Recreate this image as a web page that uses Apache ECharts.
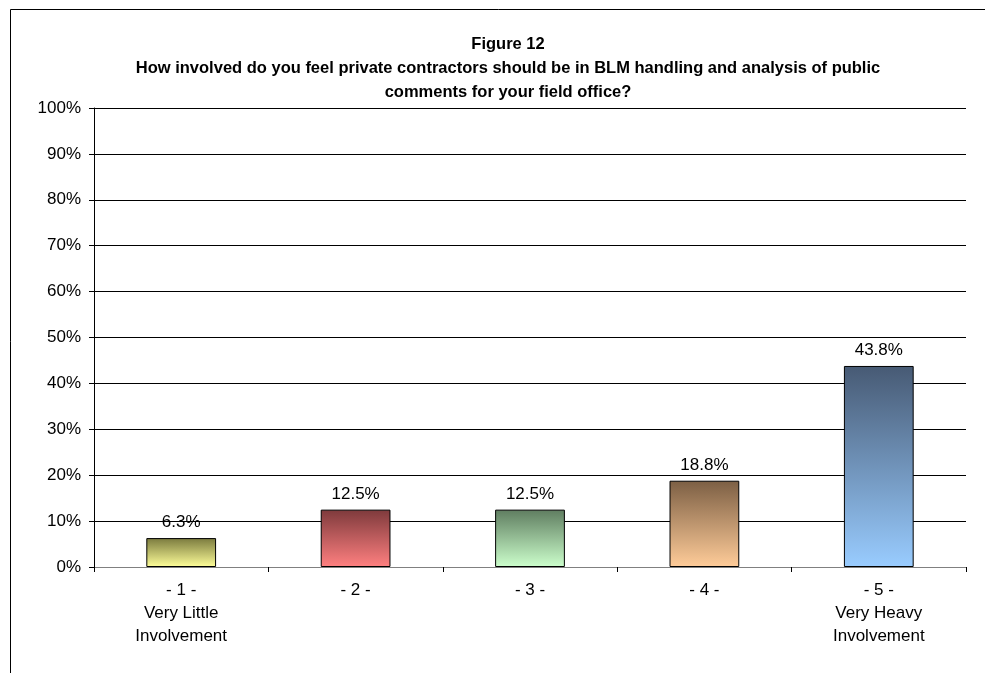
<!DOCTYPE html>
<html>
<head>
<meta charset="utf-8">
<script src="https://cdn.jsdelivr.net/npm/echarts@6/dist/echarts.min.js"></script>
<style>
  html, body { margin: 0; padding: 0; background: #fff; }
  #chart { width: 985px; height: 673px; }
</style>
</head>
<body>
<div id="chart"></div>
<script>
// Survey responses: share of respondents per involvement level
const categories = ['- 1 -\nVery Little\nInvolvement', '- 2 -', '- 3 -', '- 4 -', '- 5 -\nVery Heavy\nInvolvement'];
const shares = [6.3, 12.5, 12.5, 18.8, 43.8];
const yTicks = [0, 10, 20, 30, 40, 50, 60, 70, 80, 90, 100];

// Top (dark) and bottom (light) colours of each bar's vertical gradient
const barTops = ['#7a7a3e', '#7e3a3c', '#5f7d60', '#7c5f44', '#475a74'];
const barBottoms = ['#ffff99', '#ff8080', '#ccffcc', '#ffcc99', '#99ccff'];

const FONT = '"Liberation Sans", Arial, sans-serif';

const chart = echarts.init(document.getElementById('chart'), null, { renderer: 'canvas' });

chart.setOption({
  animation: false,
  backgroundColor: '#fff',
  graphic: [
    {
      type: 'rect',
      shape: { x: 10.5, y: 9.5, width: 1000, height: 700 },
      style: { fill: 'none', stroke: '#000', lineWidth: 1 },
      silent: true,
      z: -1
    }
  ],
  title: {
    text: 'Figure 12\nHow involved do you feel private contractors should be in BLM handling and analysis of public\ncomments for your field office?',
    left: 503,
    top: 27,
    textAlign: 'center',
    textStyle: {
      fontFamily: FONT,
      fontWeight: 'bold',
      fontSize: 16.5,
      lineHeight: 24,
      color: '#000'
    }
  },
  grid: { left: 94, right: 19, top: 108, bottom: 106, containLabel: false },
  xAxis: {
    type: 'category',
    data: categories,
    axisLine: { lineStyle: { color: '#808080', width: 1 } },
    axisTick: { show: true, alignWithLabel: false, length: 5, inside: false, lineStyle: { color: '#000' } },
    axisLabel: {
      interval: 0,
      margin: 12,
      fontFamily: FONT,
      fontSize: 17,
      lineHeight: 23,
      color: '#000'
    }
  },
  yAxis: {
    type: 'value',
    min: 0,
    max: 100,
    interval: 10,
    axisLine: { show: true, lineStyle: { color: '#000', width: 1 } },
    axisTick: { show: true, length: 5, lineStyle: { color: '#000' } },
    splitLine: { show: true, lineStyle: { color: '#000', width: 1 } },
    axisLabel: {
      margin: 13,
      fontFamily: FONT,
      fontSize: 17,
      color: '#000',
      formatter: v => (yTicks.includes(v) ? v + '%' : '')
    }
  },
  series: [
    {
      type: 'bar',
      barWidth: '40%',
      data: shares.map((v, i) => ({
        value: v,
        itemStyle: {
          color: new echarts.graphic.LinearGradient(0, 0, 0, 1, [
            { offset: 0, color: barTops[i] },
            { offset: 1, color: barBottoms[i] }
          ]),
          borderColor: '#000',
          borderWidth: 1
        }
      })),
      label: {
        show: true,
        position: 'top',
        distance: 7,
        fontFamily: FONT,
        fontSize: 17,
        color: '#000',
        formatter: p => p.value.toFixed(1) + '%'
      }
    }
  ]
});
</script>
</body>
</html>
